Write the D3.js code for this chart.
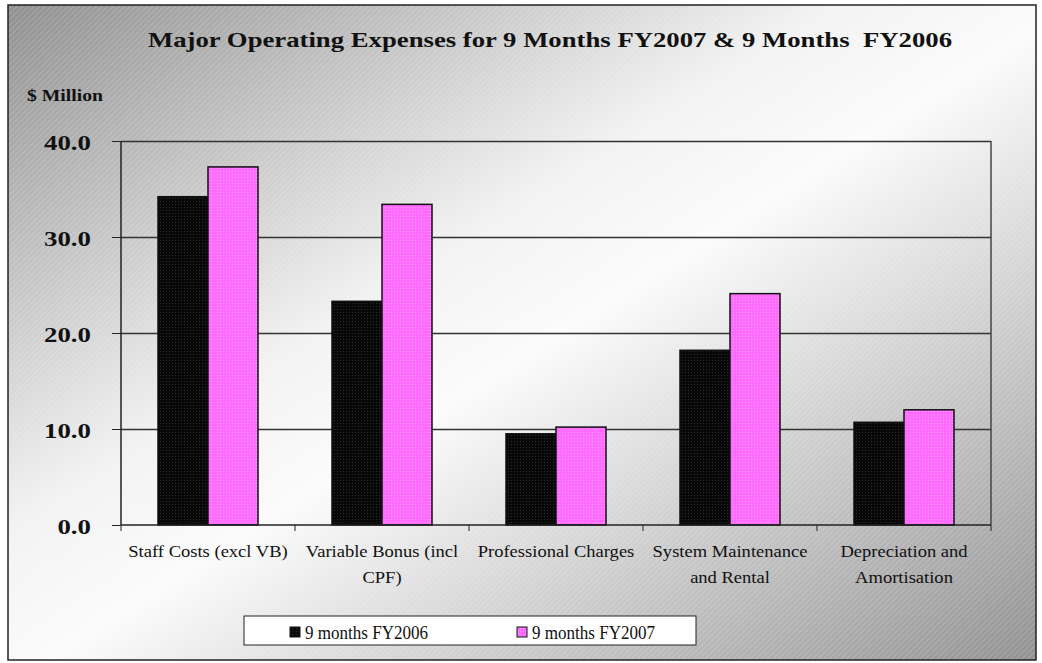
<!DOCTYPE html>
<html>
<head>
<meta charset="utf-8">
<style>
    body { margin: 0; background: #fff; }
    svg { display: block; font-family: 'Liberation Serif', 'Times New Roman', serif; }
    svg text { font-family: 'Liberation Serif', 'Times New Roman', serif; }
    .grid line { stroke: #333; stroke-width: 1.5; }
    .grid .domain { display: none; }
    .y .domain { display: none; }
    .y .tick line { stroke: #222; }
    .y .tick text { font-size: 22px; font-weight: bold; fill: #111; }
    .x .domain { stroke: #222; stroke-width: 1.5; }
</style>
</head>
<body>
<svg width="1042" height="663"></svg>
<script src="https://d3js.org/d3.v7.min.js"></script>
<script>
    let categories = [
        "Staff Costs (excl VB)",
        "Variable Bonus (incl|CPF)",
        "Professional Charges",
        "System Maintenance|and Rental",
        "Depreciation and|Amortisation"
    ]
    let fy2006 = [34.2, 23.3, 9.5, 18.2, 10.7]
    let fy2007 = [37.3, 33.4, 10.2, 24.1, 12.0]
    let seriesNames = ["9 months FY2006", "9 months FY2007"]
    let yTicks = [0, 10, 20, 30, 40]

    let width = 1042
    let height = 663
    let margin = {top: 141, right: 51, bottom: 138, left: 121}

    // the original fonts are set a little wider (or narrower) than Liberation Serif
    function stretch(sel, k) {
        sel.each(function () {
            let len = this.getComputedTextLength()
            d3.select(this).attr("textLength", len * k).attr("lengthAdjust", "spacingAndGlyphs")
        })
    }

    let svg = d3.select("svg")
    let defs = svg.append("defs")

    // background gradient, grey corners, light middle
    let grad = defs.append("linearGradient")
        .attr("id", "bg")
        .attr("x1", "0%").attr("y1", "0%")
        .attr("x2", "100%").attr("y2", "100%")
    grad.append("stop").attr("offset", "0%").attr("stop-color", "#909090")
    grad.append("stop").attr("offset", "40%").attr("stop-color", "#f2f2f2")
    grad.append("stop").attr("offset", "52%").attr("stop-color", "#fbfbfb")
    grad.append("stop").attr("offset", "100%").attr("stop-color", "#929292")

    // faint diagonal stripes
    let stripes = defs.append("pattern")
        .attr("id", "stripes")
        .attr("width", 4).attr("height", 4)
        .attr("patternUnits", "userSpaceOnUse")
        .attr("patternTransform", "rotate(45)")
    stripes.append("line")
        .attr("x1", 0).attr("y1", 0).attr("x2", 0).attr("y2", 4)
        .attr("stroke", "#fff").attr("stroke-width", 1).attr("stroke-opacity", 0.35)

    // bar textures
    let dots = defs.append("pattern")
        .attr("id", "blackfill")
        .attr("width", 3).attr("height", 3)
        .attr("patternUnits", "userSpaceOnUse")
    dots.append("rect").attr("width", 3).attr("height", 3).attr("fill", "#080808")
    dots.append("rect").attr("width", 1).attr("height", 1).attr("fill", "#2a2a2a")

    let pinkPat = defs.append("pattern")
        .attr("id", "pinkfill")
        .attr("width", 3).attr("height", 3)
        .attr("patternUnits", "userSpaceOnUse")
    pinkPat.append("rect").attr("width", 3).attr("height", 3).attr("fill", "#ff6cff")
    pinkPat.append("rect").attr("width", 1).attr("height", 1).attr("fill", "#ff9cff")

    svg.append("rect")
        .attr("x", 8).attr("y", 5)
        .attr("width", 1028).attr("height", 655)
        .attr("fill", "url(#bg)")
    svg.append("rect")
        .attr("x", 8).attr("y", 5)
        .attr("width", 1028).attr("height", 655)
        .attr("fill", "url(#stripes)")
        .attr("stroke", "#222").attr("stroke-width", 1.5)

    let x0 = d3.scaleBand()
        .domain(categories)
        .range([margin.left, width - margin.right])

    let x1 = d3.scaleBand()
        .domain(seriesNames)
        .range([0, x0.bandwidth()])
        .paddingOuter(0.74)

    let y = d3.scaleLinear()
        .domain([0, 40])
        .range([height - margin.bottom, margin.top])

    let color = d3.scaleOrdinal()
        .domain(seriesNames)
        .range(["url(#blackfill)", "url(#pinkfill)"])

    // gridlines
    svg.append("g")
        .attr("class", "grid")
        .attr("transform", `translate(${margin.left},0)`)
        .call(d3.axisLeft(y).tickValues(yTicks.slice(1)).tickSize(-(width - margin.left - margin.right)).tickFormat(""))

    // plot frame left and right
    svg.append("line")
        .attr("x1", margin.left).attr("x2", margin.left)
        .attr("y1", y(40)).attr("y2", y(0))
        .attr("stroke", "#222").attr("stroke-width", 1.5)
    svg.append("line")
        .attr("x1", width - margin.right).attr("x2", width - margin.right)
        .attr("y1", y(40)).attr("y2", y(0))
        .attr("stroke", "#444").attr("stroke-width", 1.5)

    // bars
    let rows = categories.map((c, i) => ({cat: c, values: [fy2006[i], fy2007[i]]}))

    svg.append("g")
        .selectAll("g")
        .data(rows)
        .join("g")
        .attr("transform", d => `translate(${x0(d.cat)},0)`)
        .selectAll("rect")
        .data(d => seriesNames.map((s, j) => ({key: s, value: d.values[j]})))
        .join("rect")
        .attr("x", d => x1(d.key))
        .attr("width", x1.bandwidth())
        .attr("y", d => y(d.value))
        .attr("height", d => y(0) - y(d.value))
        .attr("fill", d => color(d.key))
        .attr("stroke", "#111")
        .attr("stroke-width", 1.5)

    // y axis
    svg.append("g")
        .attr("class", "y axis")
        .attr("transform", `translate(${margin.left},0)`)
        .call(d3.axisLeft(y).tickValues(yTicks).tickSize(9).tickPadding(21).tickFormat(d3.format(".1f")))
        .attr("font-family", null)
        .attr("font-size", null)
        .call(g => g.selectAll(".tick text").attr("dy", "0.4em").call(stretch, 1.22))

    // x axis with ticks between categories
    let xAxis = svg.append("g")
        .attr("class", "x axis")
        .attr("transform", `translate(0,${height - margin.bottom})`)
        .call(d3.axisBottom(x0).tickSize(0).tickPadding(0).tickFormat(""))
        .call(g => g.select(".domain").attr("d", `M${margin.left},0H${width - margin.right}`))
        .attr("font-family", null)
        .attr("font-size", null)

    let bounds = categories.map(c => x0(c)).concat([width - margin.right])
    xAxis.selectAll(".sep")
        .data(bounds)
        .join("line")
        .attr("class", "sep")
        .attr("x1", d => d).attr("x2", d => d)
        .attr("y1", 0).attr("y2", 6)
        .attr("stroke", "#222")

    xAxis.selectAll(".cat")
        .data(categories)
        .join("text")
        .attr("class", "cat")
        .attr("text-anchor", "middle")
        .attr("font-size", 17)
        .attr("fill", "#111")
        .attr("transform", d => `translate(${x0(d) + x0.bandwidth() / 2},32)`)
        .each(function (d) {
            let t = d3.select(this)
            d.split("|").forEach((line, i) => {
                t.append("tspan").attr("x", 0).attr("dy", i === 0 ? 0 : 26).text(line)
            })
        })
    xAxis.selectAll(".cat tspan").call(stretch, 1.09)

    // title and unit
    svg.append("text")
        .attr("x", 550).attr("y", 47)
        .attr("text-anchor", "middle")
        .attr("font-size", 22)
        .attr("font-weight", "bold")
        .attr("fill", "#111")
        .attr("textLength", 804)
        .attr("lengthAdjust", "spacingAndGlyphs")
        .style("white-space", "pre")
        .text("Major Operating Expenses for 9 Months FY2007 & 9 Months  FY2006")

    svg.append("text")
        .attr("x", 27).attr("y", 101)
        .attr("font-size", 17)
        .attr("font-weight", "bold")
        .attr("fill", "#111")
        .attr("textLength", 76)
        .attr("lengthAdjust", "spacingAndGlyphs")
        .text("$ Million")

    // legend
    let legend = svg.append("g").attr("transform", "translate(244,616)")
    legend.append("rect")
        .attr("width", 452).attr("height", 29)
        .attr("fill", "#fff").attr("stroke", "#222")
    let item = legend.selectAll(".item")
        .data(seriesNames)
        .join("g")
        .attr("class", "item")
        .attr("transform", (d, i) => `translate(${46 + i * 227},0)`)
    item.append("rect")
        .attr("y", 11).attr("width", 10).attr("height", 10)
        .attr("fill", d => color(d)).attr("stroke", "#111")
    item.append("text")
        .attr("x", 15).attr("y", 23)
        .attr("font-size", 19)
        .attr("fill", "#111")
        .attr("textLength", 123)
        .attr("lengthAdjust", "spacingAndGlyphs")
        .text(d => d)
</script>
</body>
</html>
